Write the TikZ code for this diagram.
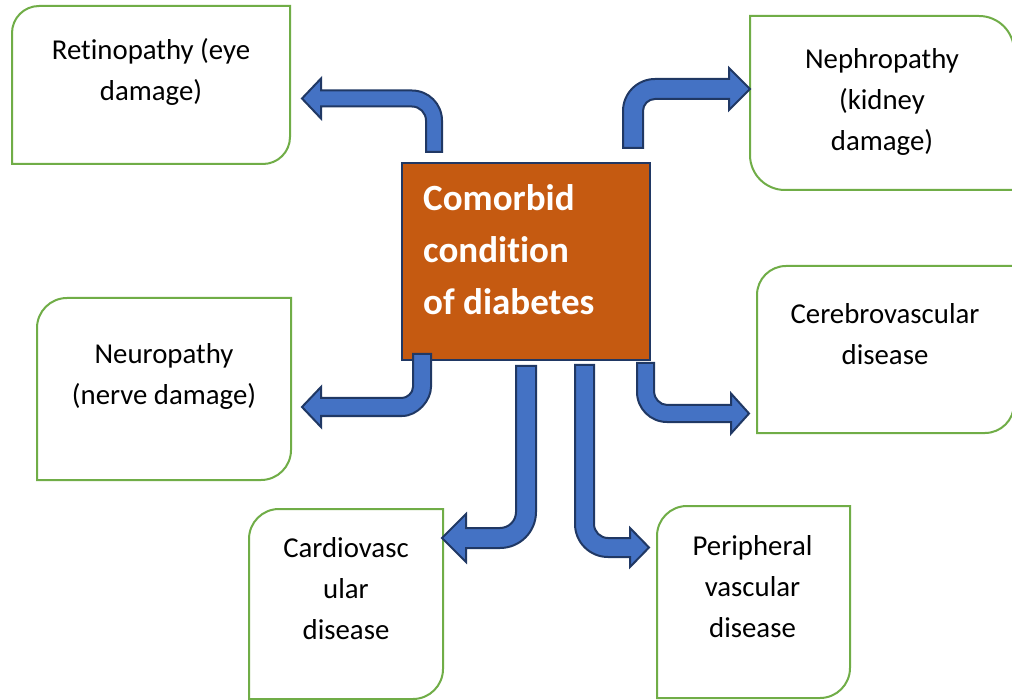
\documentclass[tikz,border=0pt]{standalone}
\usepackage{fontspec}
\setmainfont{Carlito}[Ligatures={NoCommon}]
\definecolor{boxgreen}{HTML}{70AD47}
\definecolor{arrowblue}{HTML}{4472C4}
\definecolor{navyline}{HTML}{203864}
\definecolor{centerorange}{HTML}{C55A11}
\newcommand\lnA{\rule[-10pt]{0pt}{40pt}}
\newcommand\lnB{\rule[-13pt]{0pt}{51pt}}
% box with top-left and bottom-right corners rounded
\newcommand\boxTLBR[6]{\draw[greenbox] ({#1+#5},#2) -- (#3,#2) -- (#3,{#4-#5})
  .. controls (#3,{#4-#5+0.5523*#5}) and ({#3-#5+0.5523*#5},#4) .. ({#3-#5},#4)
  -- (#1,#4) -- (#1,{#2+#5})
  .. controls (#1,{#2+#5-0.5523*#5}) and ({#1+#5-0.5523*#5},#2) .. ({#1+#5},#2) -- cycle;
  \coordinate (#6) at ({(#1+#3)/2},{(#2+#4)/2});}
% box with top-right and bottom-left corners rounded
\newcommand\boxTRBL[6]{\draw[greenbox] (#1,#2) -- ({#3-#5},#2)
  .. controls ({#3-#5+0.5523*#5},#2) and (#3,{#2+#5-0.5523*#5}) .. (#3,{#2+#5})
  -- (#3,#4) -- ({#1+#5},#4)
  .. controls ({#1+#5-0.5523*#5},#4) and (#1,{#4-#5+0.5523*#5}) .. (#1,{#4-#5}) -- cycle;
  \coordinate (#6) at ({(#1+#3)/2},{(#2+#4)/2});}
\tikzset{
  greenbox/.style={draw=boxgreen, line width=2pt, fill=white},
  blockarrow/.style={fill=arrowblue, draw=navyline, line width=2pt, line join=miter},
  boxtext/.style={anchor=north, inner sep=0pt, align=center, text=black,
    font=\fontsize{28.8}{41}\selectfont},
  centertext/.style={anchor=north west, inner sep=0pt, align=left, text=white,
    font=\fontsize{37}{52}\selectfont\bfseries},
}
\begin{document}
\begin{tikzpicture}[x=1pt,y=-1pt]
\useasboundingbox (0,0) rectangle (1012,700);
\clip (0,0) rectangle (1012,700);
\fill[white] (0,0) rectangle (1012,700);

% outer boxes
\boxTLBR{12}{6}{290}{164}{27}{retbox}
\boxTRBL{750}{16}{1014}{190}{35}{nepbox}
\boxTLBR{37}{298}{291}{480}{30}{neubox}
\boxTLBR{757}{266}{1014}{433}{29}{cerbox}
\boxTLBR{249}{509}{443}{699}{30}{carbox}
\boxTLBR{657}{506}{850}{698}{30}{perbox}

% centre box
\node[draw=navyline, line width=2pt, fill=centerorange, minimum width=248pt,
  minimum height=197pt, inner sep=0pt, anchor=north west] (center) at (401,162) {};
\node[centertext] (centerlabel) at (423,172)
  {\lnB Comorbid\\ \lnB condition\\ \lnB of diabetes};

% texts
\node[boxtext] (ret) at (151,29) {\lnA Retinopathy (eye\\ \lnA damage)};
\node[boxtext] (nep) at (882,38) {\lnA Nephropathy\\ \lnA (kidney\\ \lnA damage)};
\node[boxtext] (cer) at (885,293) {\lnA Cerebrovascular\\ \lnA disease};
\node[boxtext] (neu) at (164,333) {\lnA Neuropathy\\ \lnA (nerve damage)};
\node[boxtext] (car) at (346,527) {\lnA Cardiovasc\\ \lnA ular\\ \lnA disease};
\node[boxtext] (per) at (752.5,525) {\lnA Peripheral\\ \lnA vascular\\ \lnA disease};

% arrows
% to retinopathy
\draw[blockarrow] (426,152) -- (426,120.5)
  .. controls (426,112.77) and (419.73,106.5) .. (412,106.5)
  -- (321,106.5) -- (321,118.5) -- (302,98.5) -- (321,78.5) -- (321,90.5) -- (412,90.5)
  .. controls (428.57,90.5) and (442,103.93) .. (442,120.5)
  -- (442,152) -- cycle;
% to nephropathy
\draw[blockarrow] (623,148) -- (623,111)
  .. controls (623,93.33) and (637.33,79) .. (655,79)
  -- (729,79) -- (729,68) -- (750,89) -- (729,110) -- (729,99) -- (655,99)
  .. controls (648.37,99) and (643,104.37) .. (643,111)
  -- (643,148) -- cycle;
% to neuropathy
\draw[blockarrow] (413,354) -- (413,387)
  .. controls (413,393.08) and (406.92,398) .. (402,398)
  -- (321,398) -- (321,387) -- (302,407) -- (321,427) -- (321,416) -- (402,416)
  .. controls (418.02,416) and (431,399.98) .. (431,387)
  -- (431,354) -- cycle;
% to cerebrovascular
\draw[blockarrow] (637,363) -- (637,392)
  .. controls (637,408.57) and (650.43,422) .. (667,422)
  -- (731,422) -- (731,433.5) -- (749,413.5) -- (731,393.5) -- (731,405) -- (667,405)
  .. controls (659.82,405) and (654,397.82) .. (654,392)
  -- (654,363) -- cycle;
% to cardiovascular
\draw[blockarrow] (516,366) -- (516,512)
  .. controls (516,520.84) and (508.84,528) .. (500,528)
  -- (466,528) -- (466,514) -- (442,538) -- (466,562) -- (466,548) -- (500,548)
  .. controls (519.88,548) and (536,531.88) .. (536,512)
  -- (536,366) -- cycle;
% to peripheral
\draw[blockarrow] (575,365) -- (575,524)
  .. controls (575,542.23) and (589.77,557) .. (608,557)
  -- (630,557) -- (630,567) -- (649,547.5) -- (630,528) -- (630,538) -- (608,538)
  .. controls (600.27,538) and (594,531.73) .. (594,524)
  -- (594,365) -- cycle;
\end{tikzpicture}
\end{document}
